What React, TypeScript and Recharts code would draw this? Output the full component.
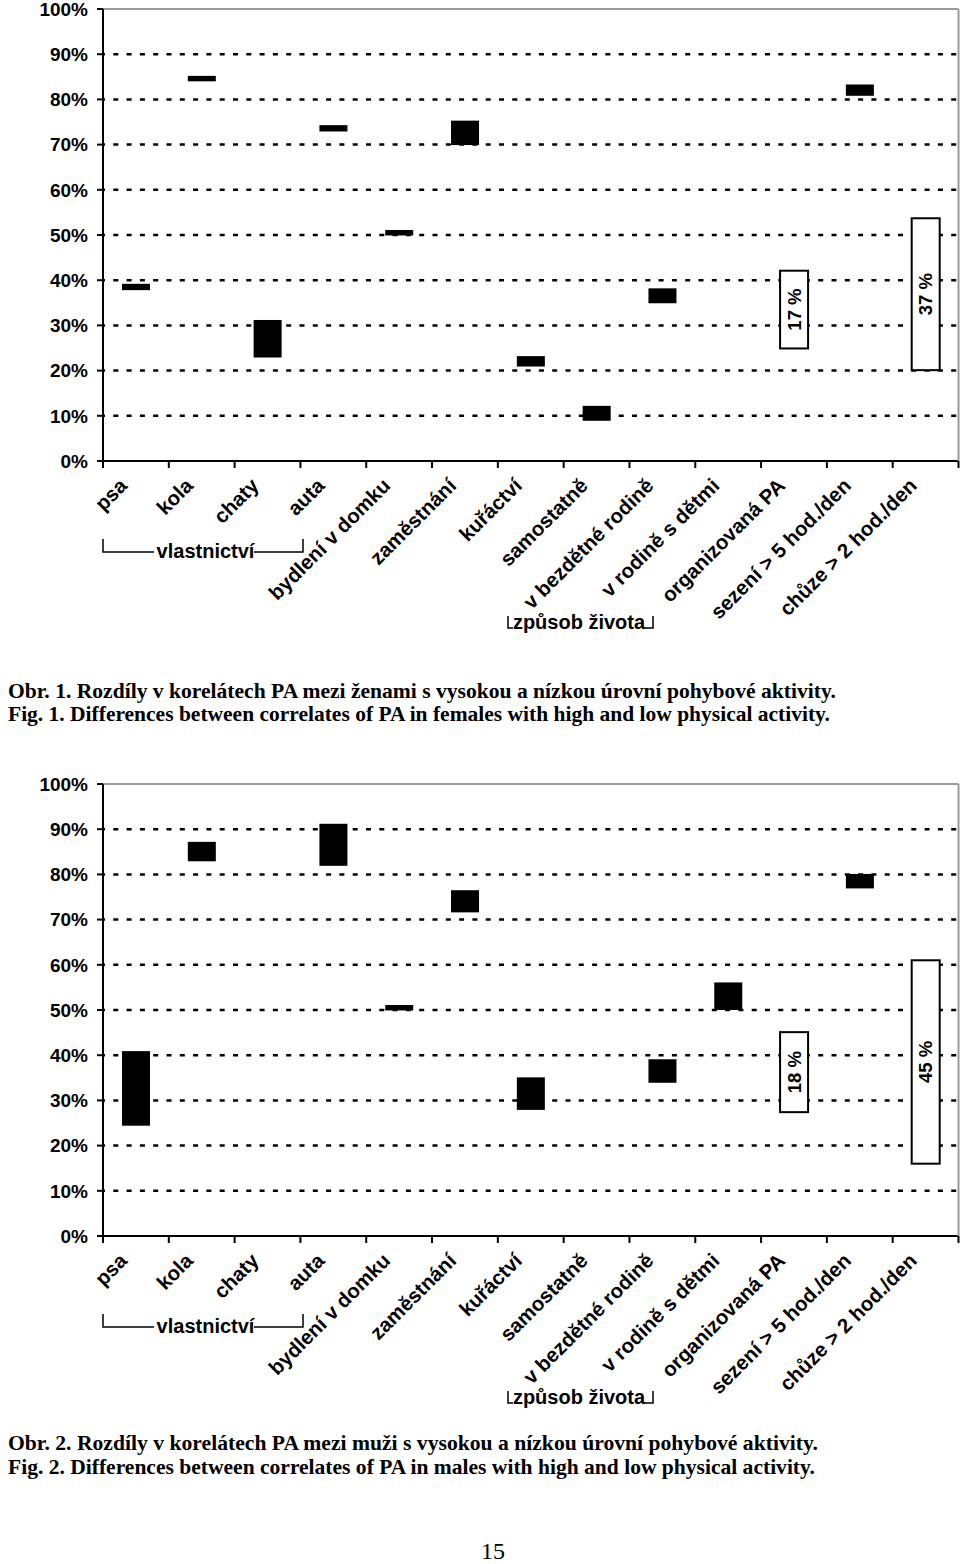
import React from 'react';
import { BarChart, Bar, XAxis, YAxis, CartesianGrid, ReferenceLine } from 'recharts';

const categories = [
  'psa',
  'kola',
  'chaty',
  'auta',
  'bydlení v domku',
  'zaměstnání',
  'kuřáctví',
  'samostatně',
  'v bezdětné rodině',
  'v rodině s dětmi',
  'organizovaná PA',
  'sezení > 5 hod./den',
  'chůze > 2 hod./den',
];

// ženy (Obr. 1)
const femaleLow = [37.8, 84.0, 22.9, 72.9, 49.9, 69.9, 20.9, 8.9, 34.9, null, 24.9, 80.8, 20.1];
const femaleHigh = [39.2, 85.2, 31.2, 74.3, 51.1, 75.3, 23.2, 12.2, 38.2, null, 42.1, 83.3, 53.7];
const femaleBoxLabels = [null, null, null, null, null, null, null, null, null, null, '17 %', null, '37 %'];

// muži (Obr. 2)
const maleLow = [24.4, 82.9, null, 81.9, 49.9, 71.6, 27.9, null, 33.9, 50.0, 27.4, 76.9, 16.0];
const maleHigh = [40.9, 87.2, null, 91.2, 51.1, 76.5, 35.1, null, 39.1, 56.1, 45.1, 80.1, 61.0];
const maleBoxLabels = [null, null, null, null, null, null, null, null, null, null, '18 %', null, '45 %'];

const yTicks = [0, 10, 20, 30, 40, 50, 60, 70, 80, 90, 100];
const gridValues = [10, 20, 30, 40, 50, 60, 70, 80, 90];

const SANS = '"Liberation Sans", Arial, sans-serif';
const SERIF = '"Liberation Serif", "Times New Roman", serif';

function buildRows(low: (number | null)[], high: (number | null)[], labels: (string | null)[]) {
  return categories.map((name, i) => ({
    name,
    range: low[i] == null ? null : [low[i], high[i]],
    label: labels[i],
  }));
}

function RangeShape(props: any) {
  const { x, y, width, height, payload } = props;
  if (!payload || !payload.range) return null;
  const top = Math.min(y, y + height);
  const h = Math.abs(height);
  if (payload.label) {
    return (
      <g>
        <rect x={x} y={top} width={width} height={h} fill="#fff" stroke="#000" strokeWidth={2} />
        <text
          transform={`translate(${x + width / 2},${top + h / 2}) rotate(-90)`}
          textAnchor="middle"
          dominantBaseline="central"
          fontFamily={SANS}
          fontWeight="bold"
          fontSize={18.5}
          fill="#000"
        >
          {payload.label}
        </text>
      </g>
    );
  }
  return <rect x={x} y={top} width={width} height={h} fill="#000" />;
}

// category label + tick marks on the band edges (Excel style)
function CategoryTick(props: any) {
  const { x, y, payload, index, width, visibleTicksCount } = props;
  const band = payload && payload.offset ? payload.offset * 2 : width / visibleTicksCount;
  const last = index === visibleTicksCount - 1;
  return (
    <g>
      <line x1={x - band / 2} x2={x - band / 2} y1={y} y2={y + 7} stroke="#000" strokeWidth={2} />
      {last && <line x1={x + band / 2} x2={x + band / 2} y1={y} y2={y + 7} stroke="#000" strokeWidth={2} />}
      <g transform={`translate(${x - 7.5},${y + 26})`}>
        <text
          transform="rotate(-45)"
          textAnchor="end"
          fontFamily={SANS}
          fontWeight="bold"
          fontSize={20.5}
          fill="#000"
        >
          {payload.value}
        </text>
      </g>
    </g>
  );
}

function Brackets({ top }: { top: number }) {
  const line = { stroke: '#000', strokeWidth: 1.5, fill: 'none' };
  const txt = { fontFamily: SANS, fontWeight: 'bold' as const, fontSize: 20, fill: '#000' };
  return (
    <svg
      width={960}
      height={660}
      style={{ position: 'absolute', left: 0, top, pointerEvents: 'none' }}
    >
      <polyline points="103,539 103,552 154,552" {...line} />
      <text x={205.5} y={558} textAnchor="middle" {...txt}>vlastnictví</text>
      <polyline points="254,552 303,552 303,539" {...line} />
      <polyline points="508,616 508,628 513,628" {...line} />
      <text x={579} y={629} textAnchor="middle" {...txt}>způsob života</text>
      <polyline points="645,628 653,628 653,616" {...line} />
    </svg>
  );
}

function RangeChart({ rows, top }: { rows: any[]; top: number }) {
  return (
    <div style={{ position: 'absolute', left: 0, top }}>
      <BarChart width={960} height={660} data={rows} margin={{ top: 9, right: 0.5, left: 0, bottom: 9 }}>
        <CartesianGrid
          vertical={false}
          horizontalValues={gridValues}
          stroke="#000"
          strokeWidth={2.5}
          strokeDasharray="5 8.3"
          strokeDashoffset={3}
        />
        <ReferenceLine y={100} stroke="#9a9a9a" strokeWidth={2} />
        <XAxis
          dataKey="name"
          interval={0}
          height={190}
          tickSize={0}
          tickMargin={0}
          axisLine={{ stroke: '#000', strokeWidth: 2 }}
          tickLine={false}
          tick={(p: any) => <CategoryTick {...p} />}
        />
        <YAxis
          domain={[0, 100]}
          ticks={yTicks}
          interval={0}
          width={103}
          tickSize={6}
          tickMargin={9}
          tickFormatter={(v: number) => `${v}%`}
          axisLine={{ stroke: '#000', strokeWidth: 2 }}
          tickLine={{ stroke: '#000', strokeWidth: 2 }}
          tick={{ fill: '#000', fontSize: 19, fontWeight: 'bold', fontFamily: SANS }}
        />
        <YAxis
          yAxisId="frame"
          orientation="right"
          domain={[0, 100]}
          width={1}
          tick={false}
          tickLine={false}
          axisLine={{ stroke: '#9a9a9a', strokeWidth: 2 }}
        />
        <Bar
          dataKey="range"
          barSize={28}
          isAnimationActive={false}
          shape={(p: any) => <RangeShape {...p} />}
        />
      </BarChart>
    </div>
  );
}

function Caption({ lines, top }: { lines: { text: string; y: number; w: number }[]; top: number }) {
  return (
    <svg width={960} height={60} style={{ position: 'absolute', left: 0, top }}>
      {lines.map((l) => (
        <text
          key={l.text}
          x={8}
          y={l.y}
          textLength={l.w}
          lengthAdjust="spacingAndGlyphs"
          fontFamily={SERIF}
          fontWeight="bold"
          fontSize={21}
          fill="#000"
        >
          {l.text}
        </text>
      ))}
    </svg>
  );
}

export default function App() {
  const femaleRows = buildRows(femaleLow, femaleHigh, femaleBoxLabels);
  const maleRows = buildRows(maleLow, maleHigh, maleBoxLabels);
  return (
    <div style={{ position: 'absolute', left: 0, top: 0, width: 960, height: 1564, background: '#fff' }}>
      <RangeChart rows={femaleRows} top={0} />
      <Brackets top={0} />
      <Caption
        top={675}
        lines={[
          { text: 'Obr. 1. Rozdíly v korelátech PA mezi ženami s vysokou a nízkou úrovní pohybové aktivity.', y: 23, w: 828 },
          { text: 'Fig. 1. Differences between correlates of PA in females with high and low physical activity.', y: 46, w: 822 },
        ]}
      />
      <RangeChart rows={maleRows} top={775} />
      <Brackets top={775} />
      <Caption
        top={1428}
        lines={[
          { text: 'Obr. 2. Rozdíly v korelátech PA mezi muži s vysokou a nízkou úrovní pohybové aktivity.', y: 22, w: 810 },
          { text: 'Fig. 2. Differences between correlates of PA in males with high and low physical activity.', y: 46, w: 807 },
        ]}
      />
      <div
        style={{
          position: 'absolute',
          left: 0,
          width: 986,
          top: 1538,
          textAlign: 'center',
          fontFamily: SERIF,
          fontSize: 24,
          lineHeight: '26px',
        }}
      >
        15
      </div>
    </div>
  );
}
